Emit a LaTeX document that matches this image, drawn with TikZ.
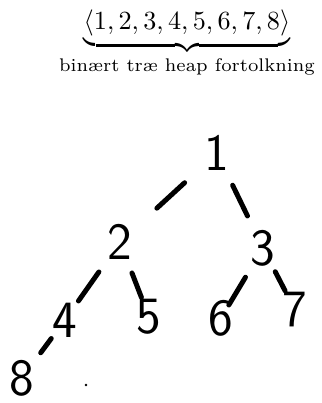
\documentclass[tikz,border=0pt]{standalone}
\usepackage{amsmath}
\usepackage{tikz}
\usetikzlibrary{shapes}
\usetikzlibrary{arrows}

\begin{document}
\begin{tikzpicture}[x=0.382pt,y=-0.382pt]
    \tikzstyle{digit}=[inner sep=0pt,font=\fontsize{20}{24}\selectfont\sffamily]
    \tikzstyle{edge}=[line width=1.9pt,line cap=round]
    \useasboundingbox (0,0) rectangle (321,403);
    \node[inner sep=0pt,anchor=north] (seq) at (187,9)
      {$\underbrace{\langle 1,2,3,4,5,6,7,8\rangle}_{\text{binært træ heap fortolkning}}$};
    \node[digit] (n1) at (217,153) {1};
    \node[digit] (n2) at (120,242) {2};
    \node[digit] (n3) at (263,248) {3};
    \node[digit] (n4) at (65,320) {4};
    \node[digit] (n5) at (149,317) {5};
    \node[digit] (n6) at (221,318) {6};
    \node[digit] (n7) at (295,310) {7};
    \node[digit] (n8) at (22,378) {8};
    \draw[edge,shorten <=16.8pt,shorten >=19.1pt] (n1.center) -- (n2.center);
    \draw[edge,shorten <=13.7pt,shorten >=13.6pt] (n1.center) -- (n3.center);
    \draw[edge,shorten <=14pt,shorten >=8.9pt] (n2.center) -- (n4.center);
    \draw[edge,shorten <=12.7pt,shorten >=8pt] (n2.center) -- (n5.center);
    \draw[edge,shorten <=13pt,shorten >=5.8pt] (n3.center) -- (n6.center);
    \draw[edge,shorten <=10.2pt,shorten >=8.2pt] (n3.center) -- (n7.center);
    \draw[edge,shorten <=8.8pt,shorten >=12pt] (n4.center) -- (n8.center);
    \fill (86,385) circle (0.5pt);
\end{tikzpicture}
\end{document}
